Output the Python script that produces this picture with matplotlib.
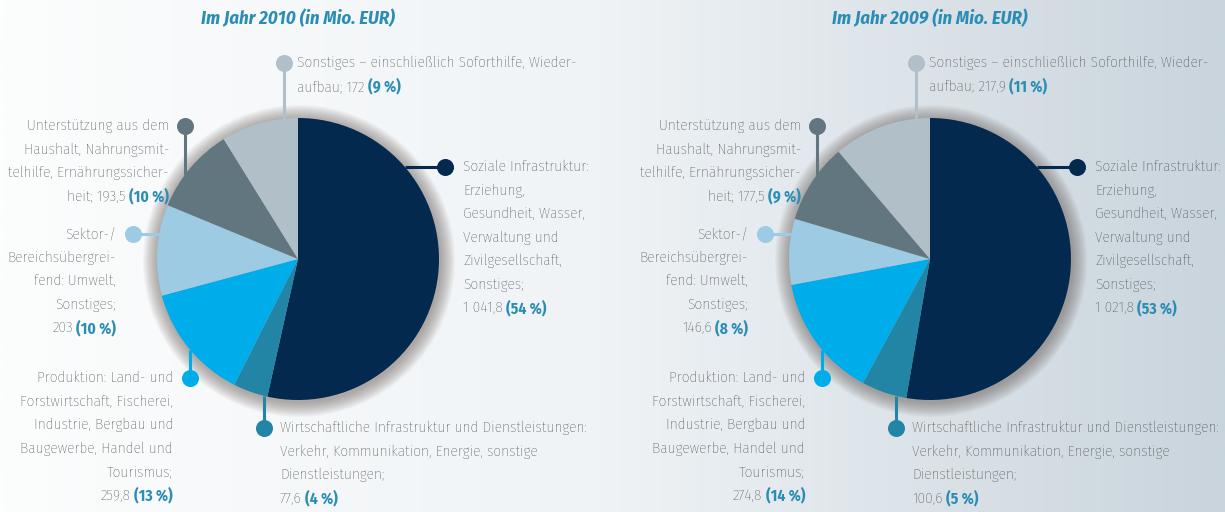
import matplotlib.pyplot as plt
import numpy as np
from matplotlib.colors import LinearSegmentedColormap
from matplotlib.patches import Circle

W, H = 1225, 512

# slices in drawing order (clockwise from 12 o'clock)
categories = [
    "Soziale Infrastruktur",
    "Wirtschaftliche Infrastruktur",
    "Produktion",
    "Sektor-/Bereichsübergreifend",
    "Unterstützung aus dem Haushalt",
    "Sonstiges",
]
values_2010 = [1041.8, 77.6, 259.8, 203.0, 193.5, 172.0]
percent_2010 = [54, 4, 13, 10, 10, 9]
values_2009 = [1021.8, 100.6, 274.8, 146.6, 177.5, 217.9]
percent_2009 = [53, 5, 14, 8, 9, 11]

label_lines = [
    ["Soziale Infrastruktur:", "Erziehung,", "Gesundheit, Wasser,",
     "Verwaltung und", "Zivilgesellschaft,", "Sonstiges;", ""],
    ["Wirtschaftliche Infrastruktur und Dienstleistungen:",
     "Verkehr, Kommunikation, Energie, sonstige", "Dienstleistungen;", ""],
    ["Produktion: Land- und", "Forstwirtschaft, Fischerei,", "Industrie, Bergbau und",
     "Baugewerbe, Handel und", "Tourismus;", ""],
    ["Sektor-/", "Bereichsübergrei-", "fend: Umwelt,", "Sonstiges;", ""],
    ["Unterstützung aus dem", "Haushalt, Nahrungsmit-", "telhilfe, Ernährungssicher-", "heit;"],
    ["Sonstiges – einschließlich Soforthilfe, Wieder-", "aufbau;"],
]

colors = ["#03294f", "#2385a6", "#00adeb", "#9ccbe3", "#61767f", "#b1bfc9"]

# label placement relative to the pie centre: dot offset, text side, leader direction
dot_offsets = [(147, 92), (-34, -169), (-108, -119), (-165, 25), (-113, 133), (-14, 196)]
text_side = ["right", "right", "left", "left", "left", "right"]
leader_dir = ["h", "v", "v", "h", "v", "v"]
text_gap = [18, 16, 17, 17, 16, 13]

TEXT = "#363636"
ACCENT = "#2b8db4"
FONT = ["Fira Sans Condensed", "DejaVu Sans"]
FS = 11.1
LINE = 23.5
R = 141


def fmt_value(v):
    if float(v).is_integer():
        s = f"{int(v):,}"
    else:
        s = f"{v:,.1f}"
    return s.replace(",", " ").replace(".", ",")


def draw_panel(ax, cx, cy, title, values, percents):
    # soft shadow behind the pie, stronger close to the rim
    for i in range(15, 0, -1):
        ax.add_patch(Circle((cx + 1, cy - 2), R + i, color="#6b605a",
                            alpha=0.045, lw=0, zorder=1))
    ax.pie(values, colors=colors, startangle=90, counterclock=False,
           center=(cx, cy), radius=R, frame=True,
           wedgeprops=dict(linewidth=0, zorder=2))

    ax.text(cx, H - 19, title, ha="center", va="center", color=ACCENT,
            fontsize=13.5, fontweight="bold", fontstyle="italic", family=FONT)

    for i, lines in enumerate(label_lines):
        dx, dy = dot_offsets[i]
        x, y = cx + dx, cy + dy
        col = colors[i]
        # leader line from dot to the pie edge
        if leader_dir[i] == "v":
            edge = np.sqrt(R**2 - dx**2)
            y_end = cy + edge if dy > 0 else cy - edge
            ax.plot([x, x], [y, y_end], color=col, lw=2.2, zorder=3,
                    solid_capstyle="butt")
        else:
            edge = np.sqrt(R**2 - dy**2)
            x_end = cx + edge if dx > 0 else cx - edge
            ax.plot([x, x_end], [y, y], color=col, lw=2.2, zorder=3,
                    solid_capstyle="butt")
        ax.scatter([x], [y], s=150, color=col, zorder=4, linewidths=0)

        side = text_side[i]
        tx = x + text_gap[i] if side == "right" else x - text_gap[i]
        ha = "left" if side == "right" else "right"
        for j, line in enumerate(lines[:-1]):
            ax.text(tx, y - j * LINE, line, ha=ha, va="center", color=TEXT,
                    fontsize=FS, fontweight="light", family=FONT)
        ly = y - (len(lines) - 1) * LINE
        prefix = lines[-1]
        plain = (prefix + " " if prefix else "") + fmt_value(values[i])
        bold = f"({percents[i]} %)"
        if ha == "left":
            t = ax.text(tx, ly, plain, ha="left", va="center", color=TEXT,
                        fontsize=FS, fontweight="light", family=FONT)
            ax.annotate(bold, xy=(1, 0.5), xycoords=t, xytext=(2.5, 0),
                        textcoords="offset points", ha="left", va="center",
                        color=ACCENT, fontsize=FS, fontweight="bold", family=FONT)
        else:
            t = ax.text(tx, ly, bold, ha="right", va="center", color=ACCENT,
                        fontsize=FS, fontweight="bold", family=FONT)
            ax.annotate(plain, xy=(0, 0.5), xycoords=t, xytext=(-2.5, 0),
                        textcoords="offset points", ha="right", va="center",
                        color=TEXT, fontsize=FS, fontweight="light", family=FONT)


fig = plt.figure(figsize=(W / 100, H / 100), dpi=100)
ax = fig.add_axes([0, 0, 1, 1])

# horizontal background gradient
bg = LinearSegmentedColormap.from_list(
    "bg", [(0.0, "#fcfdfd"), (0.49, "#eff3f6"), (1.0, "#c9d4dc")])
ax.imshow(np.linspace(0, 1, 512)[None, :], cmap=bg, aspect="auto",
          extent=(0, W, 0, H), zorder=0)

draw_panel(ax, 298, 253, "Im Jahr 2010 (in Mio. EUR)", values_2010, percent_2010)
draw_panel(ax, 930, 253, "Im Jahr 2009 (in Mio. EUR)", values_2009, percent_2009)

ax.set_xlim(0, W)
ax.set_ylim(0, H)
ax.set_aspect("auto")
ax.axis("off")

fig.savefig("out.png", dpi=100)
